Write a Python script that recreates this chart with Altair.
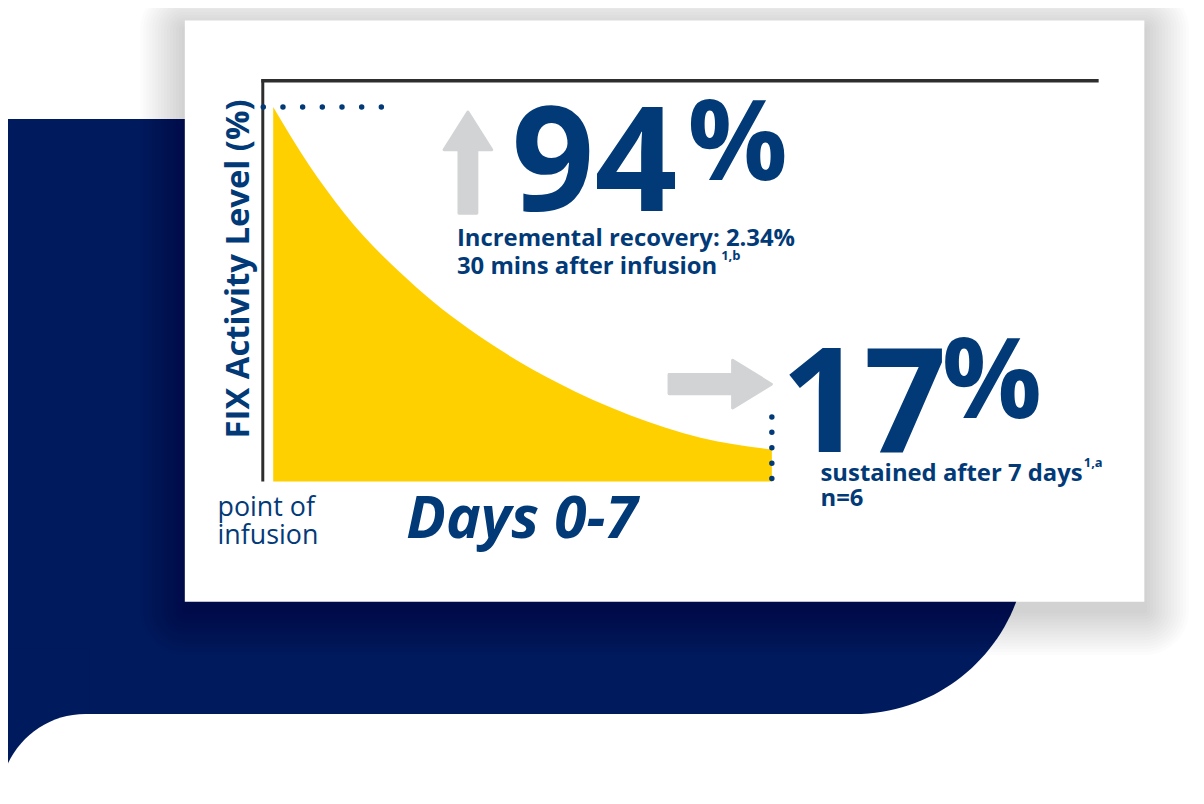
import altair as alt
import pandas as pd

# ---------------- data ----------------
days = [0, 0.5, 1, 2, 3, 4, 5, 6, 7]
fix_level = [94, 79.5, 67.3, 48.9, 35.2, 24.7, 16.7, 11.0, 8.0]
peak_value = 94
end_day = 7

y_title = "FIX Activity Level (%)"
x_title = "Days 0-7"
start_label = ["point of", "infusion"]
peak_big = "94"
peak_lines = ["Incremental recovery: 2.34%", "30 mins after infusion"]
peak_sup = "1,b"
end_big = "17"
end_lines = ["sustained after 7 days", "n=6"]
end_sup = "1,a"

curve = pd.DataFrame({"day": days, "level": fix_level})

# ---------------- styling ----------------
NAVY_BG = "#001A5E"
NAVY = "#023A78"
YELLOW = "#FFD000"
GREY = "#D1D3D4"
AXIS = "#2E2E2E"
FONT = "Open Sans"

OFF = 8  # page margin


def px(v):
    return v - OFF


ONE = alt.Data(values=[{"k": 1}])


def rect(x1, y1, x2, y2, color, opacity=1.0, **kw):
    return alt.Chart(ONE).mark_rect(color=color, opacity=opacity, **kw).encode(
        x=alt.value(px(x1)), x2=alt.value(px(x2)),
        y=alt.value(px(y1)), y2=alt.value(px(y2)))


def txt(s, x, y, size, weight="bold", style="normal", align="left",
        baseline="alphabetic", angle=0, color=NAVY):
    return alt.Chart(ONE).mark_text(
        text=s, font=FONT, fontSize=size, fontWeight=weight, fontStyle=style,
        align=align, baseline=baseline, angle=angle, color=color
    ).encode(x=alt.value(px(x)), y=alt.value(px(y)))


xs = alt.Scale(domain=[0, end_day], range=[px(275), px(777)], nice=False, zero=False)
ys = alt.Scale(domain=[0, peak_value], range=[px(482), px(105)], nice=False)

layers = []

# background shapes
layers.append(rect(0, 117, 1034, 716, NAVY_BG, cornerRadiusBottomRight=174))
layers.append(rect(0, 650, 90, 810, NAVY_BG))
layers.append(rect(0, 716, 1400, 950, "white", cornerRadiusTopLeft=86))

# card shadow
for i in range(1, 16):
    e = 3 * i
    layers.append(rect(186 - e, 18 - e + 9, 1152 + e, 603 + e + 9,
                       "black", opacity=0.012, cornerRadius=e))
# card
layers.append(rect(186, 18, 1152, 603, "white"))

# frame lines
layers.append(alt.Chart(ONE).mark_rule(color=AXIS, strokeWidth=3.5).encode(
    x=alt.value(px(263)), x2=alt.value(px(1106)), y=alt.value(px(78.5))))
layers.append(alt.Chart(ONE).mark_rule(color=AXIS, strokeWidth=3).encode(
    x=alt.value(px(264.5)), y=alt.value(px(77)), y2=alt.value(px(482))))

# yellow decay area
layers.append(alt.Chart(curve).mark_area(color=YELLOW, interpolate="monotone").encode(
    x=alt.X("day:Q", scale=xs, axis=None),
    y=alt.Y("level:Q", scale=ys, axis=None)))

# dotted guides
layers.append(alt.Chart(ONE).mark_rule(
    color=NAVY, strokeWidth=5.5, strokeCap="round", strokeDash=[0.01, 19.8]).encode(
    x=alt.value(px(265)), x2=alt.value(px(386)),
    y=alt.datum(peak_value, scale=ys)))
layers.append(alt.Chart(ONE).mark_rule(
    color=NAVY, strokeWidth=5.5, strokeCap="round", strokeDash=[0.01, 15.5]).encode(
    x=alt.datum(end_day, scale=xs),
    y=alt.value(px(417)), y2=alt.value(px(480))))

# grey arrows (custom symbol paths, unit = 24 px)
up_arrow = "M0,-2.125L1,-0.54L0.375,-0.54L0.375,2.125L-0.375,2.125L-0.375,-0.54L-1,-0.54Z"
right_arrow = "M2.146,0L0.52,-1L0.52,-0.4L-2.146,-0.4L-2.146,0.4L0.52,0.4L0.52,1Z"
layers.append(alt.Chart(ONE).mark_point(
    shape=up_arrow, size=2304, filled=True, opacity=1, color=GREY,
    stroke=GREY, strokeWidth=3, strokeJoin="round").encode(
    x=alt.value(px(471)), y=alt.value(px(161))))
layers.append(alt.Chart(ONE).mark_point(
    shape=right_arrow, size=2304, filled=True, opacity=1, color=GREY,
    stroke=GREY, strokeWidth=3, strokeJoin="round").encode(
    x=alt.value(px(725)), y=alt.value(px(384))))

# texts
layers.append(txt(y_title, 241, 268, 33, align="center", baseline="middle", angle=270))
layers.append(txt(start_label[0], 219, 517, 27, weight="normal"))
layers.append(txt(start_label[1], 219, 545, 27, weight="normal"))
layers.append(txt(x_title, 409, 539, 59, style="italic"))

layers.append(txt(peak_big, 515, 210, 146))
layers.append(txt("%", 692, 178, 112))
layers.append(txt(peak_lines[0], 460, 245, 24))
layers.append(txt(peak_lines[1], 460, 273, 24))
layers.append(txt(peak_sup, 726, 259, 13))

layers.append(txt(end_big, 786, 452, 146))
layers.append(txt("%", 948, 418, 112))
layers.append(txt(end_lines[0], 826, 482, 24))
layers.append(txt(end_lines[1], 826, 507, 24))
layers.append(txt(end_sup, 1091, 467, 13))

chart = alt.layer(*layers).properties(
    width=1204 - OFF, height=804 - OFF,
    padding=0,
    autosize=alt.AutoSizeParams(type="none"),
    background="white",
).configure_view(stroke=None)

chart.save("out.html", embed_options={"renderer": "svg", "actions": False})
